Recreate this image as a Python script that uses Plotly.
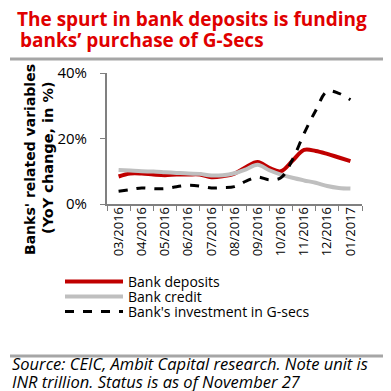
import plotly.graph_objects as go

months = ["03/2016", "04/2016", "05/2016", "06/2016", "07/2016", "08/2016",
          "09/2016", "10/2016", "11/2016", "12/2016", "01/2017"]
# fortnightly observations, in month units from 03/2016
period = [0, 0.5, 1, 1.5, 2, 2.5, 3, 3.5, 4, 4.5, 5, 5.5, 6, 6.5, 7, 7.5, 8, 8.5, 9, 9.5, 10]
bank_deposits = [8.4, 9.3, 9.3, 9.0, 8.8, 9.0, 9.0, 9.0, 8.2, 8.5, 9.3, 11.3, 12.8, 11.0, 10.0,
                 13.2, 16.5, 16.2, 15.3, 14.2, 13.1]
bank_credit = [10.4, 10.2, 10.0, 9.9, 9.7, 9.5, 9.3, 9.2, 8.7, 8.8, 9.4, 10.6, 12.0, 10.3, 9.0,
               8.0, 7.2, 6.5, 5.5, 4.9, 4.7]
gsec_investment = [3.9, 4.4, 4.9, 4.7, 4.7, 5.3, 5.7, 5.5, 4.9, 5.0, 5.3, 7.0, 8.2, 7.4, 8.0,
                   13.5, 21.5, 28.5, 34.4, 33.8, 31.8]
y_ticks = [0, 20, 40]
y_tick_labels = ["0%", "20%", "40%"]

FONT = "Open Sans"
L, R, T, B = 99, 354, 65, 196
W = R - L
H = B - T


def px(x):
    return (x - L) / W


def py(y):
    return (B - y) / H


fig = go.Figure()
fig.add_trace(go.Scatter(x=period, y=bank_deposits, name="Bank deposits", mode="lines",
                         legend="legend",
                         line=dict(color="#C00000", width=4, shape="spline")))
fig.add_trace(go.Scatter(x=period, y=bank_credit, name="Bank credit", mode="lines",
                         legend="legend2",
                         line=dict(color="#BFBFBF", width=4, shape="spline")))
fig.add_trace(go.Scatter(x=period, y=gsec_investment, name="Bank's investment in G-secs", mode="lines",
                         legend="legend3",
                         line=dict(color="#000000", width=3, dash="dash", shape="spline")))

legend_rows = [274, 289, 304]


def leg(row_y):
    return dict(x=px(52), y=py(row_y), xanchor="left", yanchor="middle",
                font=dict(size=14, family=FONT), itemwidth=58,
                bgcolor="rgba(0,0,0,0)")


fig.update_layout(
    width=391, height=391,
    margin=dict(l=L, r=391 - R, t=T, b=391 - B),
    paper_bgcolor="white", plot_bgcolor="white",
    font=dict(family=FONT, color="black"),
    showlegend=True,
    legend=leg(legend_rows[0]),
    legend2=leg(legend_rows[1]),
    legend3=leg(legend_rows[2]),
    xaxis=dict(range=[-0.5, 10.5], tickmode="array", tickvals=list(range(len(months))),
               ticktext=months, tickangle=-90, ticks="", showgrid=False, zeroline=False,
               showline=True, linecolor="#808080", linewidth=1.5, ticklabelstandoff=-4,
               tickfont=dict(size=13, family=FONT),
               minor=dict(ticks="outside", tickvals=[i - 0.5 for i in range(len(months) + 1)],
                          ticklen=5, tickcolor="#808080", tickwidth=1, showgrid=False)),
    yaxis=dict(range=[0, 40], tickmode="array", tickvals=y_ticks, ticktext=y_tick_labels,
               ticks="outside", ticklen=5, tickcolor="#808080", showgrid=False, zeroline=False,
               showline=True, linecolor="#808080", linewidth=2, ticklabelstandoff=10,
               tickfont=dict(size=15, family=FONT)),
)

annotations = [
    dict(x=px(7), y=py(-4), xanchor="left", yanchor="top",
         text="<b>The spurt in bank deposits is funding</b>",
         font=dict(size=19, color="#E00000", family=FONT)),
    dict(x=px(10), y=py(17), xanchor="left", yanchor="top",
         text="<b>banks\u2019 purchase of G-Secs</b>",
         font=dict(size=19, color="#E00000", family=FONT)),
    dict(x=px(22), y=py(152), xanchor="center", yanchor="middle", textangle=-90,
         text="<b>Banks' related variables</b>", font=dict(size=14, family="DejaVu Sans")),
    dict(x=px(40), y=py(150), xanchor="center", yanchor="middle", textangle=-90,
         text="<b>(YoY change, in %)</b>", font=dict(size=14.5, family="DejaVu Sans")),
    dict(x=px(2), y=py(342), xanchor="left", yanchor="top",
         text="<i>Source: CEIC, Ambit Capital research. Note unit is</i>",
         font=dict(size=16.5, family=FONT)),
    dict(x=px(2), y=py(360), xanchor="left", yanchor="top",
         text="<i>INR trillion. Status is as of November 27</i>",
         font=dict(size=16.5, family=FONT)),
]
for a in annotations:
    a.update(xref="paper", yref="paper", showarrow=False)
fig.update_layout(annotations=annotations)

fig.add_shape(type="line", xref="paper", yref="paper", x0=px(2), x1=px(384), y0=py(51), y1=py(51),
              line=dict(color="#A6A6A6", width=3))
fig.add_shape(type="line", xref="paper", yref="paper", x0=px(2), x1=px(388), y0=py(348), y1=py(348),
              line=dict(color="#A6A6A6", width=3))

fig.write_html("out.html")
